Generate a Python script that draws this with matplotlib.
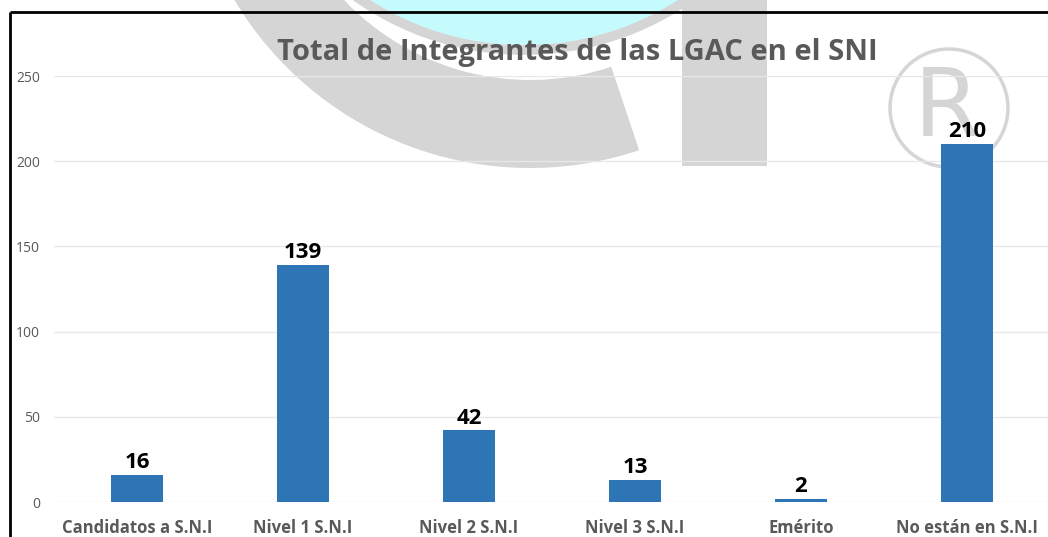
import numpy as np
import matplotlib.pyplot as plt
from matplotlib.patches import Wedge, Circle, Rectangle

# Chart data
categories = ["Candidatos a S.N.I", "Nivel 1 S.N.I", "Nivel 2 S.N.I",
              "Nivel 3 S.N.I", "Emérito", "No están en S.N.I"]
values = [16, 139, 42, 13, 2, 210]
y_ticks = [0, 50, 100, 150, 200, 250]

TITLE = "Total de Integrantes de las LGAC en el SNI"
BAR_COLOR = "#2e75b6"
TEXT_GRAY = "#595959"
GRID_COLOR = "#e8e8e8"
WM_GRAY = "#d6d5d6"
WM_CYAN = "#c6fbfd"
W, H = 1048, 537

plt.rcParams['font.family'] = ['Open Sans', 'DejaVu Sans']

fig = plt.figure(figsize=(W / 100, H / 100), dpi=100)

# background layer in pixel coordinates (watermark + frame)
bg = fig.add_axes([0, 0, 1, 1], zorder=0)
bg.set_xlim(0, W)
bg.set_ylim(H, 0)
bg.axis('off')

# watermark "C" arc, cyan disc, vertical bar and (R) symbol
bg.add_patch(Wedge((530, -176), 344, 71.5, 211, width=88, color=WM_GRAY, lw=0))
bg.add_patch(Circle((524, -240), 290, facecolor=WM_CYAN, edgecolor=WM_GRAY, lw=7))
bg.add_patch(Rectangle((682, -5), 85, 171, color=WM_GRAY, lw=0))
bg.add_patch(Circle((949, 108), 59, facecolor='none', edgecolor=WM_GRAY, lw=2.5))
bg.text(947, 110, "R", fontsize=68, color=WM_GRAY, ha='center', va='center',
        family='DejaVu Sans')

# outer frame (cut at right/bottom)
bg.plot([10, 10], [12, H + 5], color='black', lw=2, solid_capstyle='butt')
bg.plot([10, W + 5], [12, 12], color='black', lw=2, solid_capstyle='butt')

# main chart
ax = fig.add_axes([54 / W, 35 / H, (1050 - 54) / W, (502 - 76) / H], zorder=2)
ax.patch.set_alpha(0)

x = np.arange(len(categories))
bars = ax.bar(x, values, width=0.31, color=BAR_COLOR, zorder=3)

for xi, v in zip(x, values):
    ax.text(xi, v + 1, str(v), ha='center', va='bottom', fontsize=16,
            fontweight='bold', color='black')

ax.set_xlim(-0.5, len(categories) - 0.5)
ax.set_ylim(0, 250)
ax.set_yticks(y_ticks)
ax.set_yticklabels([str(t) for t in y_ticks], fontsize=10, color=TEXT_GRAY)
ax.set_xticks(x)
ax.set_xticklabels(categories, fontsize=12, fontweight='bold', color=TEXT_GRAY)
ax.tick_params(axis='both', length=0)
ax.tick_params(axis='x', pad=12)
ax.tick_params(axis='y', pad=10)
ax.grid(axis='y', color=GRID_COLOR, lw=1, zorder=0)
for spine in ax.spines.values():
    spine.set_visible(False)

fig.text(0.551, 0.903, TITLE, ha='center', va='center', fontsize=21,
         fontweight='bold', color=TEXT_GRAY, zorder=5)

fig.savefig("out.png", dpi=100)
